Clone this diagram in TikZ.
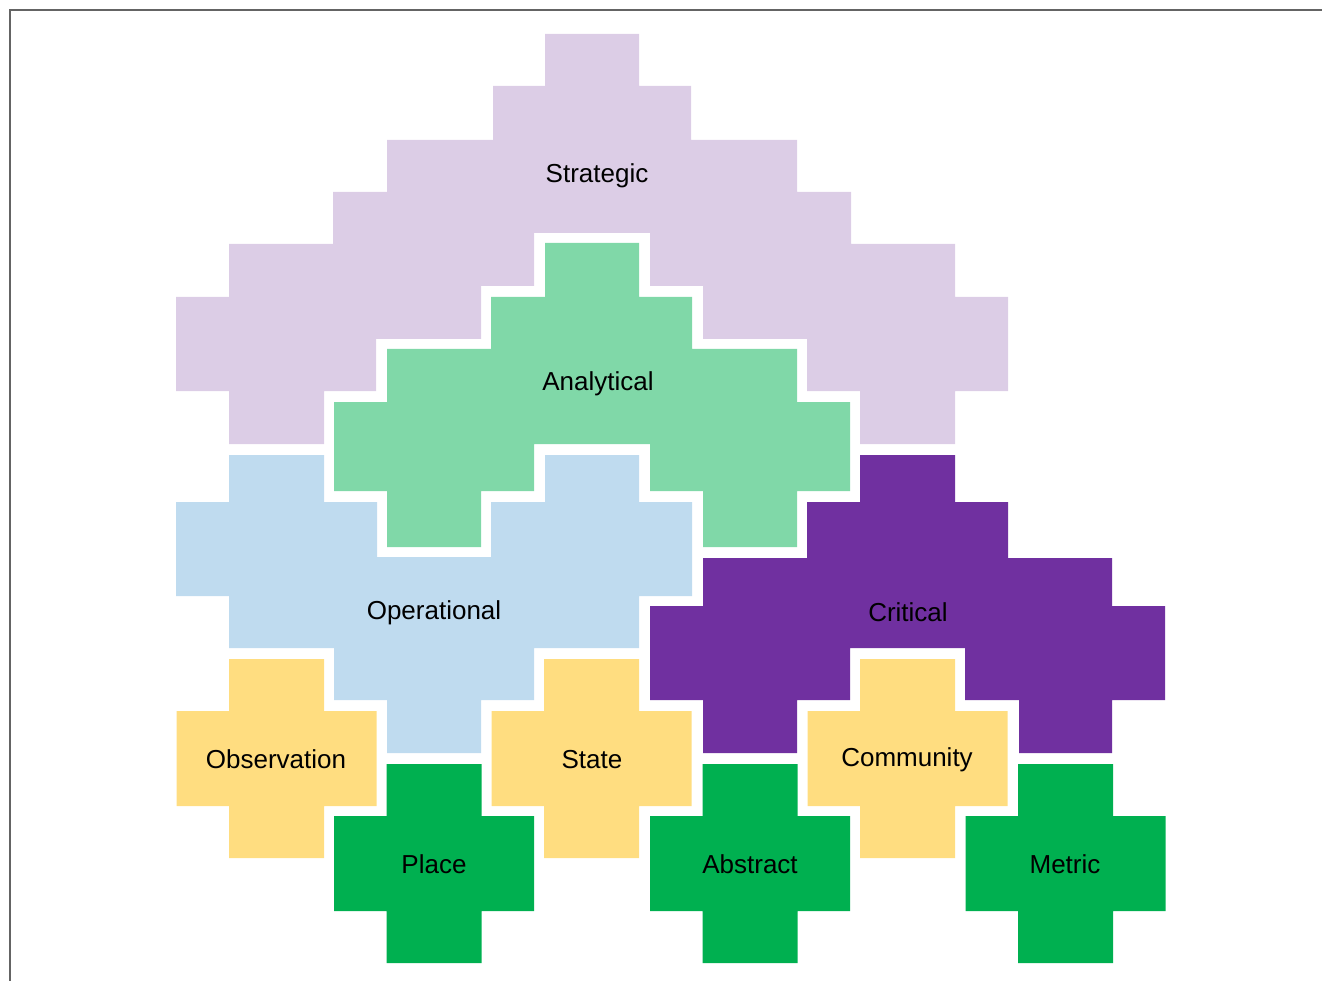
\documentclass[tikz,border=0pt]{standalone}
\usepackage{fontspec}
\setmainfont{Liberation Sans}
\definecolor{clav}{RGB}{220,205,230}
\definecolor{cmint}{RGB}{128,216,168}
\definecolor{csky}{RGB}{191,219,239}
\definecolor{cviolet}{RGB}{112,48,160}
\definecolor{cgold}{RGB}{255,221,128}
\definecolor{cleaf}{RGB}{0,176,80}
\definecolor{cframe}{RGB}{100,100,100}
\newcommand\tilecross[3]{\fill[#3] ({#1-47.5},{#2-99.5}) -- ({#1+47.5},{#2-99.5}) -- ({#1+47.5},{#2-47.5}) -- ({#1+100},{#2-47.5}) -- ({#1+100},{#2+47.5}) -- ({#1+47.5},{#2+47.5}) -- ({#1+47.5},{#2+99.5}) -- ({#1-47.5},{#2+99.5}) -- ({#1-47.5},{#2+47.5}) -- ({#1-100},{#2+47.5}) -- ({#1-100},{#2-47.5}) -- ({#1-47.5},{#2-47.5}) -- cycle;}
\tikzset{
  lbl/.style={anchor=base, inner sep=0pt, font=\fontsize{26}{30}\selectfont, text=black},
  stratfill/.style={fill=clav},
  analfill/.style={fill=cmint},
  operfill/.style={fill=csky},
  critfill/.style={fill=cviolet},
  goldfill/.style={fill=cgold},
  leaffill/.style={fill=cleaf},
  framestyle/.style={draw=cframe, line width=1.6pt}
}
\begin{document}
\begin{tikzpicture}[x=1pt,y=-1pt]
\useasboundingbox (0,0) rectangle (1322,981);
% frame
\draw[framestyle] (10,981) -- (10,10) -- (1322,10);
% Strategic
\fill[stratfill] (545,34) -- (639,34) -- (639,86) -- (691,86) -- (691,140) -- (797,140) -- (797,192) -- (851,192) -- (851,244) -- (955,244) -- (955,297) -- (1008,297) -- (1008,391) -- (955,391) -- (955,444) -- (860,444) -- (860,391) -- (807,391) -- (807,339) -- (703,339) -- (703,286) -- (650,286) -- (650,233) -- (534,233) -- (534,286) -- (481,286) -- (481,339) -- (376,339) -- (376,391) -- (324,391) -- (324,444) -- (229,444) -- (229,391) -- (176,391) -- (176,297) -- (229,297) -- (229,244) -- (333,244) -- (333,192) -- (387,192) -- (387,140) -- (493,140) -- (493,86) -- (545,86) -- cycle;
% Analytical
\fill[analfill] (545,243) -- (639,243) -- (639,297) -- (692,297) -- (692,349) -- (797,349) -- (797,402) -- (850,402) -- (850,491) -- (797,491) -- (797,547) -- (703,547) -- (703,491) -- (650,491) -- (650,444) -- (534,444) -- (534,491) -- (481,491) -- (481,547) -- (387,547) -- (387,491) -- (334,491) -- (334,402) -- (387,402) -- (387,349) -- (491,349) -- (491,297) -- (545,297) -- cycle;
% Operational
\fill[operfill] (229,455) -- (324,455) -- (324,502) -- (377,502) -- (377,557) -- (491,557) -- (491,502) -- (545,502) -- (545,455) -- (639,455) -- (639,502) -- (692,502) -- (692,596) -- (639,596) -- (639,648) -- (534,648) -- (534,700) -- (481,700) -- (481,753) -- (387,753) -- (387,700) -- (334,700) -- (334,648) -- (229,648) -- (229,596) -- (176,596) -- (176,502) -- (229,502) -- cycle;
% Critical
\fill[critfill] (860,455) -- (955,455) -- (955,502) -- (1008,502) -- (1008,558) -- (1112,558) -- (1112,606) -- (1165,606) -- (1165,700) -- (1112,700) -- (1112,753) -- (1019,753) -- (1019,700) -- (965,700) -- (965,648) -- (850,648) -- (850,700) -- (797,700) -- (797,753) -- (703,753) -- (703,700) -- (650,700) -- (650,606) -- (703,606) -- (703,558) -- (807,558) -- (807,502) -- (860,502) -- cycle;
% small crosses
\tilecross{276.5}{758.5}{goldfill}
\tilecross{591.5}{758.5}{goldfill}
\tilecross{907.5}{758.5}{goldfill}
\tilecross{434}{863.5}{leaffill}
\tilecross{750}{863.5}{leaffill}
\tilecross{1065.5}{863.5}{leaffill}
% labels
\node[lbl] (strategic) at (597,183) {Strategic};
\node[lbl] (analytical) at (598,390) {Analytical};
\node[lbl] (operational) at (434,619) {Operational};
\node[lbl] (critical) at (908,621) {Critical};
\node[lbl] (observation) at (276,768) {Observation};
\node[lbl] (state) at (592,768) {State};
\node[lbl] (community) at (907,766) {Community};
\node[lbl] (place) at (434,873) {Place};
\node[lbl] (abstract) at (750,873) {Abstract};
\node[lbl] (metric) at (1065,873) {Metric};
\end{tikzpicture}
\end{document}
